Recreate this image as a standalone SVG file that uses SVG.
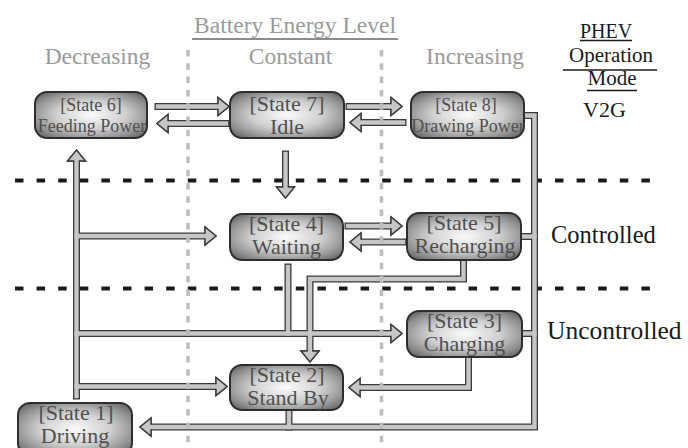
<svg xmlns="http://www.w3.org/2000/svg" xmlns:xlink="http://www.w3.org/1999/xlink" width="688" height="448" viewBox="0 0 688 448">
<style>
text { font-family: "Liberation Serif", "Times New Roman", serif; }
.hdr { font-size: 23.5px; fill: #9a9a9a; text-anchor: middle; }
.mode { fill: #1a1a1a; }
.box { fill: url(#boxfill); stroke: #2e2e2e; stroke-width: 2; }
.lbl { font-size: 22px; fill: #505050; text-anchor: middle; }
.lbl.sm { font-size: 18px; }
.hdash { fill: none; stroke: #1a1a1a; stroke-width: 4; stroke-dasharray: 8.5 13.1; }
.vdash { fill: none; stroke: #bdbdbd; stroke-width: 3.5; stroke-dasharray: 6.5 6.8; }
.uline { stroke: #1a1a1a; stroke-width: 1.3; }
.wire-out { fill: none; stroke: #3a3a3a; stroke-width: 7; stroke-linecap: square; stroke-linejoin: miter; }
.wire-in { fill: none; stroke: #c6c6c6; stroke-width: 4.4; stroke-linecap: square; stroke-linejoin: miter; }
</style>
<defs>
<radialGradient id="boxfill" cx="0.5" cy="0.5" r="0.62">
<stop offset="0" stop-color="#fbfbfb"/>
<stop offset="0.5" stop-color="#cfcfcf"/>
<stop offset="0.85" stop-color="#909090"/>
<stop offset="1" stop-color="#6e6e6e"/>
</radialGradient>
<marker id="ah" markerUnits="userSpaceOnUse" orient="auto" markerWidth="16" markerHeight="22" refX="1" refY="11" overflow="visible">
<path d="M1,8.8 L1,2 L12,11 L1,20 L1,13.2" fill="#c6c6c6" stroke="#3a3a3a" stroke-width="1.4" stroke-linejoin="miter"/>
</marker>
<g id="wires">
<path d="M158,106.5 H218" marker-end="url(#ah)"/>
<path d="M226,123.5 H168" marker-end="url(#ah)"/>
<path d="M349,106.5 H391" marker-end="url(#ah)"/>
<path d="M403,122.5 H361" marker-end="url(#ah)"/>
<path d="M285.5,154 V187" marker-end="url(#ah)"/>
<path d="M348,226 H391" marker-end="url(#ah)"/>
<path d="M403,242 H361" marker-end="url(#ah)"/>
<path d="M76.5,396 V161" marker-end="url(#ah)"/>
<path d="M76.5,236 H205" marker-end="url(#ah)"/>
<path d="M76.5,333.5 H391" marker-end="url(#ah)"/>
<path d="M76.5,386.5 H216" marker-end="url(#ah)"/>
<path d="M288,267 V333.5"/>
<path d="M463.5,263 V279 H310 V351" marker-end="url(#ah)"/>
<path d="M468.5,359 V387.5 H360" marker-end="url(#ah)"/>
<path d="M524,115.5 H534.5 V427 H151" marker-end="url(#ah)"/>
<path d="M521,236.5 H534.5"/>
<path d="M522,333.5 H534.5"/>
<path d="M289,411 V427"/>
</g>
</defs>

<rect width="688" height="448" fill="#ffffff"/>

<g id="headers">
<text class="hdr" x="295" y="33" fill="#8c8c8c">Battery Energy Level</text>
<line x1="192" y1="39" x2="398" y2="39" stroke="#666" stroke-width="1.5"/>
<text class="hdr" x="97.5" y="64">Decreasing</text>
<text class="hdr" x="290.5" y="64">Constant</text>
<text class="hdr" x="475" y="64">Increasing</text>
</g>

<g id="mode-labels">
<text class="mode" x="606" y="38" font-size="20" text-anchor="middle">PHEV</text>
<line class="uline" x1="580" y1="40.5" x2="632" y2="40.5"/>
<text class="mode" x="611" y="62" font-size="21" text-anchor="middle">Operation</text>
<line class="uline" x1="563" y1="70" x2="657" y2="70"/>
<text class="mode" x="612" y="85" font-size="21" text-anchor="middle">Mode</text>
<line class="uline" x1="587" y1="90.5" x2="637" y2="90.5"/>
<text class="mode" x="583" y="117" font-size="22">V2G</text>
<text class="mode" x="551" y="243" font-size="24.5">Controlled</text>
<text class="mode" x="547" y="339" font-size="25.5">Uncontrolled</text>
</g>

<g id="separators">
<line class="hdash" x1="15" y1="180.5" x2="652" y2="180.5"/>
<line class="hdash" x1="15" y1="288.5" x2="652" y2="288.5"/>
</g>

<g id="connectors">
<use xlink:href="#wires" class="wire-out"/>
<use xlink:href="#wires" class="wire-in"/>
</g>

<g id="columns">
<line class="vdash" x1="188" y1="50" x2="188" y2="448"/>
<line class="vdash" x1="381.5" y1="50" x2="381.5" y2="448"/>
</g>

<g id="state6">
<rect class="box" x="35" y="92" width="112" height="46" rx="12"/>
<text class="lbl sm" x="91" y="111">[State 6]</text>
<text class="lbl sm" x="92" y="132">Feeding Power</text>
</g>
<g id="state7">
<rect class="box" x="230" y="92" width="114" height="46" rx="12"/>
<text class="lbl" x="287" y="111">[State 7]</text>
<text class="lbl" x="287" y="134">Idle</text>
</g>
<g id="state8">
<rect class="box" x="411" y="92" width="113" height="46" rx="12"/>
<text class="lbl sm" x="466" y="111">[State 8]</text>
<text class="lbl sm" x="468" y="132">Drawing Power</text>
</g>
<g id="state4">
<rect class="box" x="230" y="214" width="113" height="46" rx="12"/>
<text class="lbl" x="286.5" y="231">[State 4]</text>
<text class="lbl" x="286.5" y="254">Waiting</text>
</g>
<g id="state5">
<rect class="box" x="407" y="213" width="114" height="47" rx="12"/>
<text class="lbl" x="464" y="230">[State 5]</text>
<text class="lbl" x="465" y="253">Recharging</text>
</g>
<g id="state3">
<rect class="box" x="407" y="311" width="115" height="46" rx="12"/>
<text class="lbl" x="464.5" y="328">[State 3]</text>
<text class="lbl" x="464.5" y="351">Charging</text>
</g>
<g id="state2">
<rect class="box" x="230" y="365" width="113" height="45" rx="12"/>
<text class="lbl" x="287" y="382">[State 2]</text>
<text class="lbl" x="288" y="405">Stand By</text>
</g>
<g id="state1">
<rect class="box" x="18" y="403" width="114" height="52" rx="12"/>
<text class="lbl" x="76" y="420">[State 1]</text>
<text class="lbl" x="75" y="443">Driving</text>
</g>
</svg>
